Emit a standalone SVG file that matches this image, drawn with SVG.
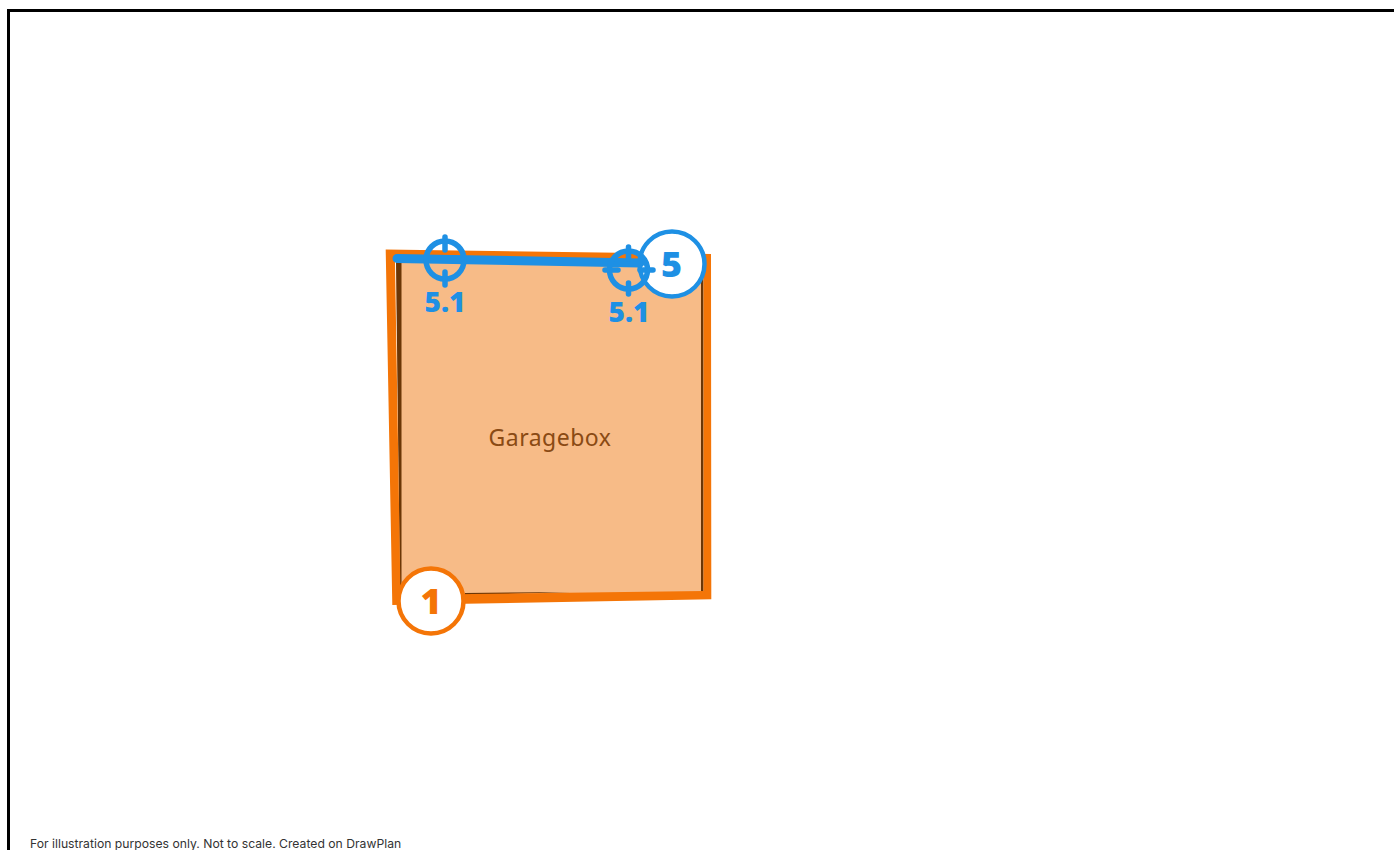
<svg xmlns="http://www.w3.org/2000/svg" width="1394" height="850" viewBox="0 0 1394 850">
<style>
.bl{fill:none;stroke:#1e90e4;stroke-width:5.500;stroke-linecap:round}
.num{font-family:"Open Sans","Noto Sans",sans-serif;font-weight:800;text-anchor:middle}
</style>
<rect width="1394" height="850" fill="#fff"/>
<path d="M8.500 850V10.500H1394" fill="none" stroke="#000" stroke-width="3"/>
<g id="garagebox">
<polygon points="396,260 703,260 703.500,592.500 400,595" fill="#f7bb87"/>
<path fill="#6b3606" d="M396,260 L401.500,260 L401.500,594 L400,594Z M701,262 H703.500 V592 H701Z M465,593 L570,592 L465,595.500Z"/>
<path fill-rule="evenodd" fill="#f47507" d="M385.700,249.500 L711,254 L711.300,599.300 L392.300,605 Z M395,262 L703.500,263 L703.500,591 L400.500,595 Z"/>
<text x="550" y="446" font-family="'Noto Sans','Open Sans',sans-serif" font-size="23" letter-spacing="0.500" fill="#8a4a14" text-anchor="middle">Garagebox</text>
</g>
<g id="badge-5">
<circle cx="672" cy="264" r="32.500" fill="#fff" stroke="#1e90e4" stroke-width="4.500"/>
<text class="num" x="671.500" y="277" font-size="36" fill="#1e90e4">5</text>
</g>
<g id="badge-1">
<circle cx="431" cy="601" r="32.500" fill="#fff" stroke="#f47507" stroke-width="4.500"/>
<text class="num" x="431" y="614" font-size="36" fill="#f47507">1</text>
</g>
<g id="connectors">
<path d="M397,258.500 L640,263" fill="none" stroke="#1e90e4" stroke-width="9" stroke-linecap="round"/>
</g>
<g id="target-a">
<circle class="bl" cx="445" cy="260" r="19"/>
<path class="bl" d="M445,237V250M445,272V285"/>
<text class="num" x="445" y="312" font-size="28" fill="#1e90e4">5.1</text>
</g>
<g id="target-b">
<circle class="bl" cx="628.500" cy="270" r="19"/>
<path class="bl" d="M628.500,247V259M628.500,283V294M605,270H618M640,270H653"/>
<text class="num" x="629" y="322" font-size="28" fill="#1e90e4">5.1</text>
</g>
<text x="30" y="848" font-family="Inter,'Noto Sans',sans-serif" font-size="12.200" fill="#333">For illustration purposes only. Not to scale. Created on DrawPlan</text>
</svg>
